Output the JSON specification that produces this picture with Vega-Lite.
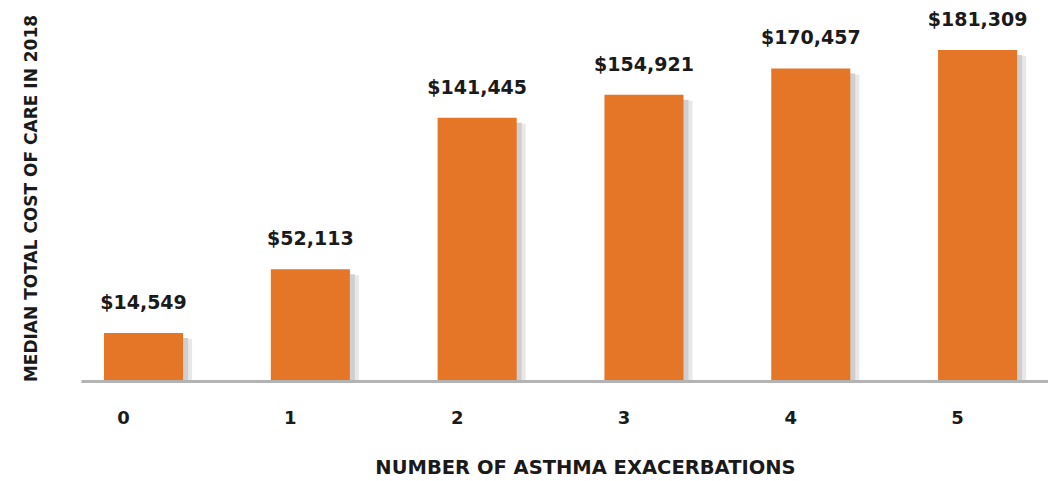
{
  "$schema": "https://vega.github.io/schema/vega-lite/v6.json",
  "width": 967,
  "height": 376,
  "autosize": {"type": "none"},
  "padding": {"left": 81, "top": 5, "right": 0, "bottom": 100},
  "background": "white",
  "config": {"view": {"stroke": null}},
  "data": {
    "values": [
      {"n": "0", "cost": 14549, "label": "$14,549"},
      {"n": "1", "cost": 52113, "label": "$52,113"},
      {"n": "2", "cost": 141445, "label": "$141,445"},
      {"n": "3", "cost": 154921, "label": "$154,921"},
      {"n": "4", "cost": 170457, "label": "$170,457"},
      {"n": "5", "cost": 181309, "label": "$181,309"}
    ]
  },
  "encoding": {
    "x": {
      "field": "n",
      "type": "ordinal",
      "sort": null,
      "scale": {"paddingInner": 0.526, "paddingOuter": 0.1615, "align": 0.427},
      "axis": {
        "title": "NUMBER OF ASTHMA EXACERBATIONS",
        "titleFont": "DejaVu Sans",
        "titleFontWeight": "bold",
        "titleFontSize": 19.5,
        "titleColor": "#1a1a1a",
        "titleX": 504,
        "titleY": 77,
        "titleBaseline": "top",
        "labelAngle": 0,
        "labelFont": "DejaVu Sans",
        "labelFontWeight": "bold",
        "labelFontSize": 18,
        "labelColor": "#1a1a1a",
        "labelOffset": -20,
        "labelPadding": 28,
        "ticks": false,
        "domainColor": "#b3b3b3",
        "domainWidth": 3,
        "zindex": 1
      }
    },
    "y": {
      "field": "cost",
      "type": "quantitative",
      "scale": {"domain": [-13730, 207826], "zero": false, "nice": false},
      "axis": {
        "title": "MEDIAN TOTAL COST OF CARE IN 2018",
        "titleFont": "DejaVu Sans",
        "titleFontWeight": "bold",
        "titleFontSize": 17,
        "titleColor": "#1a1a1a",
        "titleX": -50,
        "titleY": 193,
        "titleBaseline": "middle",
        "labels": false,
        "ticks": false,
        "domain": false,
        "grid": false
      }
    }
  },
  "layer": [
    {
      "mark": {"type": "bar", "color": "#e8e8e8", "xOffset": 9, "yOffset": 6},
      "encoding": {"y2": {"datum": -13730}}
    },
    {
      "mark": {"type": "bar", "color": "#cfcfcf", "xOffset": 5, "yOffset": 5},
      "encoding": {"y2": {"datum": -13730}}
    },
    {
      "mark": {"type": "bar", "color": "#e67627"},
      "encoding": {"y2": {"datum": -13730}}
    },
    {
      "mark": {
        "type": "text",
        "font": "DejaVu Sans",
        "fontWeight": "bold",
        "fontSize": 19,
        "color": "#1a1a1a",
        "baseline": "alphabetic",
        "dy": -24
      },
      "encoding": {"text": {"field": "label"}}
    }
  ]
}
